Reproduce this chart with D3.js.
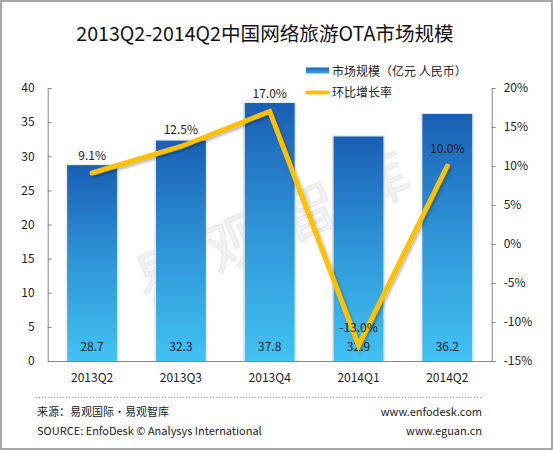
<!DOCTYPE html>
<html><head><meta charset="utf-8">
<script src="https://cdn.jsdelivr.net/npm/d3@7"></script>
<style>
html,body{margin:0;padding:0;background:#fff;}
text{font-family:"Noto Sans CJK SC","Noto Sans",sans-serif;}
</style></head>
<body>
<svg id="c" width="553" height="451"></svg>
<script>
const categories = ["2013Q2","2013Q3","2013Q4","2014Q1","2014Q2"];
const marketSize = [28.7, 32.3, 37.8, 32.9, 36.2];
const growthRate = [9.1, 12.5, 17.0, -13.0, 10.0];
const leftTicks = [0,5,10,15,20,25,30,35,40];
const rightTicks = [-15,-10,-5,0,5,10,15,20];
const titleText = "2013Q2-2014Q2中国网络旅游OTA市场规模";
const legendLabels = ["市场规模（亿元 人民币）","环比增长率"];

const svg = d3.select("#c");
const defs = svg.append("defs");
const grad = defs.append("linearGradient").attr("id","barG").attr("x1",0).attr("y1",0).attr("x2",0).attr("y2",1);
grad.append("stop").attr("offset","0%").attr("stop-color","#1a5fb5");
grad.append("stop").attr("offset","50%").attr("stop-color","#2f96d8");
grad.append("stop").attr("offset","100%").attr("stop-color","#42c2f2");
const lgGrad = defs.append("linearGradient").attr("id","lgG").attr("x1",0).attr("y1",0).attr("x2",0).attr("y2",1);
lgGrad.append("stop").attr("offset","0%").attr("stop-color","#1a5fb5");
lgGrad.append("stop").attr("offset","100%").attr("stop-color","#3fa8e6");
const sh = defs.append("filter").attr("id","sh").attr("x","-20%").attr("y","-20%").attr("width","140%").attr("height","140%");
sh.append("feDropShadow").attr("dx",1.5).attr("dy",2).attr("stdDeviation",1.5).attr("flood-color","#000").attr("flood-opacity",0.3);

// frame
svg.append("rect").attr("x",1).attr("y",1).attr("width",551).attr("height",448)
  .attr("fill","#fff").attr("stroke","#8a8a8a").attr("stroke-width",1.5);

const x0 = 47.7, x1 = 491.7, yTop = 88, yBot = 361;
const x = d3.scaleBand().domain(categories).range([x0,x1]).paddingInner(0.437).paddingOuter(0.2185);
const yL = d3.scaleLinear().domain([0,40]).range([yBot,yTop]);
const yR = d3.scaleLinear().domain([-15,20]).range([yBot,yTop]);

// title
svg.append("text").attr("x",265).attr("y",41).attr("text-anchor","middle")
  .attr("font-size",19.6).attr("fill","#111").text(titleText);

// watermark
const wm = svg.append("g").attr("transform","translate(272,228) rotate(-23)");
["易","观","智","库"].forEach((ch,i)=>{
  wm.append("text").attr("x",(i-1.5)*78).attr("y",20).attr("text-anchor","middle")
    .attr("font-size",58).attr("fill","#f2f2f2").attr("stroke","#e2e2e2").attr("stroke-width",0.8).text(ch);
});

// bars
const bars = svg.append("g");
bars.selectAll("rect.bg").data(categories).join("rect")
  .attr("x",d=>x(d)-1.5).attr("width",x.bandwidth()+3)
  .attr("y",(d,i)=>yL(marketSize[i])-1).attr("height",(d,i)=>yBot-yL(marketSize[i])+1)
  .attr("fill","#dcdcdc");
bars.selectAll("rect.w").data(categories).join("rect")
  .attr("x",d=>x(d)-0.7).attr("width",x.bandwidth()+1.4)
  .attr("y",(d,i)=>yL(marketSize[i])-0.5).attr("height",(d,i)=>yBot-yL(marketSize[i])+0.5)
  .attr("fill","#fff");
bars.selectAll("rect.b").data(categories).join("rect")
  .attr("x",d=>x(d)).attr("width",x.bandwidth())
  .attr("y",(d,i)=>yL(marketSize[i])).attr("height",(d,i)=>yBot-yL(marketSize[i]))
  .attr("fill","url(#barG)");

// axes
const axL = svg.append("g").attr("transform",`translate(${x0},0)`)
  .call(d3.axisLeft(yL).tickValues(leftTicks).tickSizeInner(-4).tickSizeOuter(0).tickPadding(13));
const axR = svg.append("g").attr("transform",`translate(${x1},0)`)
  .call(d3.axisRight(yR).tickValues(rightTicks).tickSizeInner(4).tickSizeOuter(0).tickPadding(8).tickFormat(d=>d+"%"));
[axL,axR].forEach(a=>{
  a.selectAll("path,line").attr("stroke","#868686");
  a.selectAll("text").attr("font-size",12).attr("fill","#222").attr("font-family",'"Noto Sans CJK SC","Noto Sans",sans-serif');
});
const axB = svg.append("g").attr("transform",`translate(0,${yBot})`)
  .call(d3.axisBottom(x).tickSize(0).tickPadding(12));
axB.select("path").attr("stroke","#868686");
axB.selectAll("text").attr("font-size",12).attr("fill","#222").attr("font-family",'"Noto Sans CJK SC","Noto Sans",sans-serif');

// bar value labels
svg.append("g").selectAll("text").data(categories).join("text")
  .attr("x",d=>x(d)+x.bandwidth()/2).attr("y",351).attr("text-anchor","middle")
  .attr("font-size",12).attr("fill","#222").text((d,i)=>marketSize[i].toFixed(1));

// line
const cx = d=>x(d)+x.bandwidth()/2;
const line = d3.line().x((d,i)=>cx(categories[i])).y(d=>yR(d));
svg.append("path").datum(growthRate).attr("d",line)
  .attr("fill","none").attr("stroke","#ffc000").attr("stroke-width",5)
  .attr("stroke-linecap","round").attr("stroke-linejoin","miter").attr("filter","url(#sh)");

svg.append("g").selectAll("text").data(growthRate).join("text")
  .attr("x",(d,i)=>cx(categories[i])).attr("y",d=>yR(d)-13).attr("text-anchor","middle")
  .attr("font-size",12).attr("fill","#222").text(d=>d.toFixed(1)+"%");

// legend
svg.append("rect").attr("x",306).attr("y",67.5).attr("width",23).attr("height",6).attr("fill","url(#lgG)");
svg.append("line").attr("x1",307).attr("x2",328).attr("y1",92.5).attr("y2",92.5)
  .attr("stroke","#ffc000").attr("stroke-width",4).attr("stroke-linecap","round");
svg.append("text").attr("x",332).attr("y",75.5).attr("font-size",12).attr("fill","#222").text(legendLabels[0]);
svg.append("text").attr("x",332).attr("y",96.5).attr("font-size",12).attr("fill","#222").text(legendLabels[1]);

// footer
svg.append("line").attr("x1",36).attr("x2",482).attr("y1",397.5).attr("y2",397.5)
  .attr("stroke","#999").attr("stroke-dasharray","1,2");
svg.append("text").attr("x",37).attr("y",416).attr("font-size",11).attr("fill","#222").text("来源：易观国际·易观智库");
svg.append("text").attr("x",37).attr("y",435).attr("font-size",11).attr("fill","#222").text("SOURCE: EnfoDesk © Analysys International");
svg.append("text").attr("x",482).attr("y",416).attr("font-size",11).attr("text-anchor","end").attr("fill","#222").text("www.enfodesk.com");
svg.append("text").attr("x",482).attr("y",435).attr("font-size",11).attr("text-anchor","end").attr("fill","#222").text("www.eguan.cn");
</script>
</body></html>
